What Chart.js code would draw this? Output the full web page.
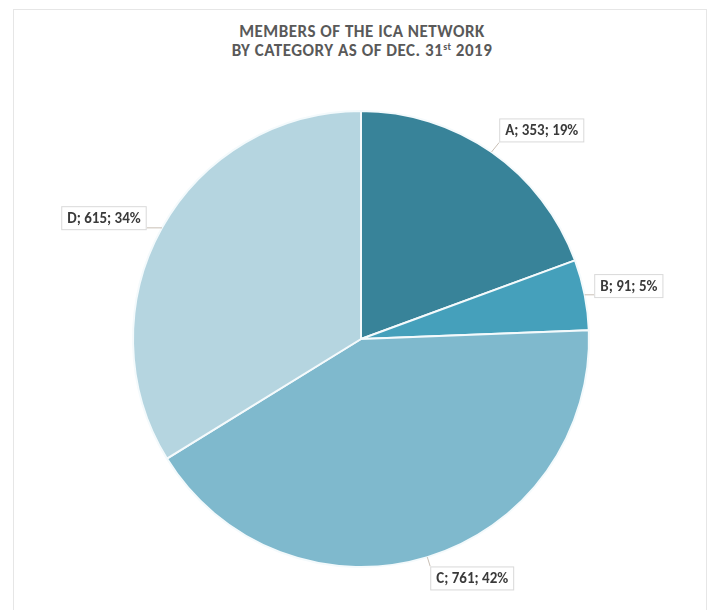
<!DOCTYPE html>
<html>
<head>
<meta charset="utf-8">
<script src="https://cdn.jsdelivr.net/npm/chart.js@4.4.1/dist/chart.umd.min.js"></script>
<style>
  html, body { margin: 0; padding: 0; background: #fff; }
  #wrap { position: relative; width: 713px; height: 610px; overflow: hidden; }
  #frame {
    position: absolute; left: 13px; top: 9px; width: 694px; height: 640px;
    border: 1px solid #e6e6e6; box-sizing: border-box;
  }
  #title {
    position: absolute; left: 0; top: 22px; width: 724px; text-align: center;
    font-family: Carlito, Lato, "Open Sans", sans-serif; font-weight: bold;
    font-size: 17px; line-height: 19px; color: #595959; letter-spacing: 0.5px;
  }
  #title sup { font-size: 10px; line-height: 0; vertical-align: 6px; }
  canvas { position: absolute; left: 0; top: 0; }
</style>
</head>
<body>
<div id="wrap">
  <div id="frame"></div>
  <div id="title">MEMBERS OF THE ICA NETWORK<br>BY CATEGORY AS OF DEC. 31<sup>st</sup> 2019</div>
  <canvas id="chart" width="713" height="610"></canvas>
</div>
<script>
const categories = ['A', 'B', 'C', 'D'];
const members = [353, 91, 761, 615];
const percents = [19, 5, 42, 34];
const sliceColors = ['#388399', '#45a0bb', '#7fb9cd', '#b5d5e0'];

// where each label box sits: angle offset (deg) from the slice middle, distance from centre
const labelPlacement = [
  { da: 6, dist: 276 },
  { da: 0, dist: 273 },
  { da: -8, dist: 264 },
  { da: -4, dist: 284 }
];

const labelFont = 'bold 15px Carlito, Lato, "Open Sans", sans-serif';

const outsideLabels = {
  id: 'outsideLabels',
  afterDatasetsDraw(chart) {
    const ctx = chart.ctx;
    const meta = chart.getDatasetMeta(0);
    ctx.save();
    ctx.font = labelFont;
    meta.data.forEach((arc, i) => {
      const { x, y, startAngle, endAngle, outerRadius } = arc.getProps(['x', 'y', 'startAngle', 'endAngle', 'outerRadius'], true);
      const mid = (startAngle + endAngle) / 2;
      const text = `${categories[i]}; ${members[i]}; ${percents[i]}%`;
      const w = ctx.measureText(text).width + 12;
      const h = 24;
      const place = labelPlacement[i];
      const a = mid + place.da * Math.PI / 180;
      const cx = x + Math.cos(a) * place.dist;
      const cy = y + Math.sin(a) * place.dist;
      const bx = cx - w / 2, by = cy - h / 2;

      // leader line from slice edge to nearest point of the box
      const ex = x + Math.cos(mid) * outerRadius;
      const ey = y + Math.sin(mid) * outerRadius;
      const nx = Math.max(bx, Math.min(ex, bx + w));
      const ny = Math.max(by, Math.min(ey, by + h));
      ctx.strokeStyle = '#c9bfb5';
      ctx.lineWidth = 1;
      ctx.beginPath();
      ctx.moveTo(ex, ey);
      ctx.lineTo(nx, ny);
      ctx.stroke();

      ctx.fillStyle = '#ffffff';
      ctx.fillRect(bx, by, w, h);
      ctx.strokeStyle = '#d9d9d9';
      ctx.strokeRect(bx + 0.5, by + 0.5, w - 1, h - 1);

      ctx.fillStyle = '#3a3a3a';
      ctx.textAlign = 'center';
      ctx.textBaseline = 'middle';
      ctx.fillText(text, cx, cy + 1);
    });
    ctx.restore();
  }
};

new Chart(document.getElementById('chart'), {
  type: 'pie',
  data: {
    labels: categories,
    datasets: [{
      data: members,
      backgroundColor: sliceColors,
      borderColor: '#f4fafc',
      borderWidth: 2
    }]
  },
  options: {
    responsive: false,
    animation: false,
    layout: { padding: { left: 132, right: 123, top: 110, bottom: 42 } },
    plugins: {
      legend: { display: false },
      tooltip: { enabled: false },
      title: { display: false }
    }
  },
  plugins: [outsideLabels]
});
</script>
</body>
</html>
